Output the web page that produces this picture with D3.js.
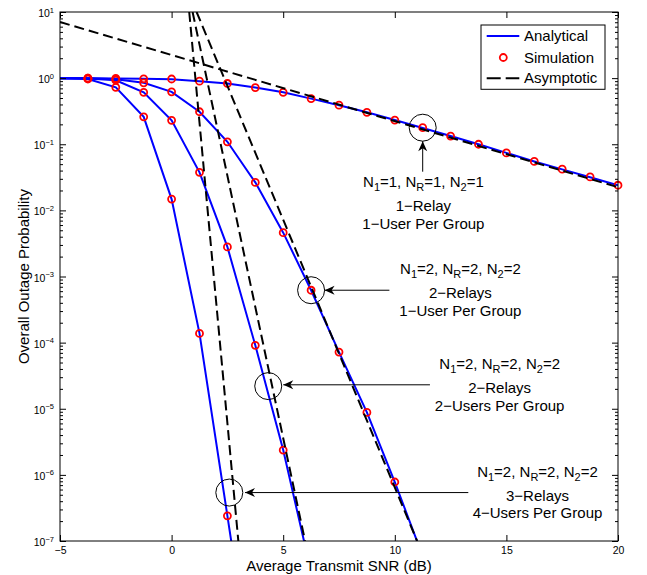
<!DOCTYPE html>
<html>
<head>
<meta charset="utf-8">
<script src="https://cdn.jsdelivr.net/npm/d3@7"></script>
<style>
  body { margin: 0; background: #fff; }
  text { font-family: "Liberation Sans", Arial, Helvetica, sans-serif; }
</style>
</head>
<body>
<div class="view"></div>
<script>
// SNR points (dB); the simulation has no point at -5 dB
const snrAna = [-5, -3.75, -2.5, -1.25, 0, 1.25, 2.5, 3.75, 5, 6.25, 7.5, 8.75, 10, 11.25, 12.5, 13.75, 15, 16.25, 17.5, 18.75, 20];
const snrSim = [-3.75, -2.5, -1.25, 0, 1.25, 2.5, 3.75, 5, 6.25, 7.5, 8.75, 10, 11.25, 12.5, 13.75, 15, 16.25, 17.5, 18.75, 20];

// N1=1, NR=1, N2=1 : 1 relay, 1 user per group
const anaA = [1.0, 0.995, 0.99, 0.98, 0.965, 0.90, 0.83, 0.72, 0.61, 0.49, 0.388, 0.304, 0.232, 0.176, 0.133, 0.100, 0.074, 0.055, 0.0417, 0.0316, 0.024];
const simA = [0.995, 0.99, 0.975, 0.97, 0.90, 0.83, 0.72, 0.61, 0.49, 0.39, 0.304, 0.232, 0.178, 0.133, 0.100, 0.074, 0.055, 0.042, 0.032, 0.024];

// N1=2, NR=2, N2=2 : 2 relays, 1 user per group
const anaB = [1.0, 0.995, 0.96, 0.85, 0.62, 0.31, 0.109, 0.0265, 4.6e-3, 6.2e-4, 7.2e-5, 8.8e-6, 7.8e-7, 5.9e-8];
const simB = [0.995, 0.96, 0.85, 0.62, 0.31, 0.109, 0.0265, 4.6e-3, 6.2e-4, 7.2e-5, 8.8e-6, 7.8e-7];

// N1=2, NR=2, N2=2 : 2 relays, 2 users per group
const anaC = [1.0, 0.99, 0.93, 0.61, 0.23, 0.0376, 2.8e-3, 9.1e-5, 2.37e-6, 3.4e-8];
const simC = [0.99, 0.93, 0.61, 0.23, 0.0376, 2.8e-3, 9.1e-5, 2.37e-6];

// N1=2, NR=2, N2=2 : 3 relays, 4 users per group
const anaD = [1.0, 0.97, 0.725, 0.26, 0.0148, 1.38e-4, 2.4e-7, 4e-10];
const simD = [0.97, 0.725, 0.26, 0.0148, 1.38e-4, 2.4e-7];

// asymptotes, straight on the log scale (two end points each)
const asymSnrA = [-5, 20];    const asymA = [7.06, 0.0224];
const asymSnrB = [1.12, 11.0]; const asymB = [10, 1e-7];
const asymSnrC = [0.94, 5.98]; const asymC = [10, 1e-7];
const asymSnrD = [0.79, 2.99]; const asymD = [10, 1e-7];

// ticks
const xTicks = [-5, 0, 5, 10, 15, 20];
const yExponents = [-7, -6, -5, -4, -3, -2, -1, 0, 1];

const legendLabels = ["Analytical", "Simulation", "Asymptotic"];

// circled points and their notes
const noteSnr = [11.25, 6.25, 4.33, 2.585];
const noteProb = [0.178, 6.2e-4, 2.2e-5, 5.4e-7];
const noteLines = [
    ["N_1=1, N_R=1, N_2=1", "1\u2212Relay", "1\u2212User Per Group"],
    ["N_1=2, N_R=2, N_2=2", "2\u2212Relays", "1\u2212User Per Group"],
    ["N_1=2, N_R=2, N_2=2", "2\u2212Relays", "2\u2212Users Per Group"],
    ["N_1=2, N_R=2, N_2=2", "3\u2212Relays", "4\u2212Users Per Group"]
];

/** Outage probability chart */
class OutageChart {

    constructor(){
        this.margin = {top: 12, right: 29, bottom: 34, left: 60};
        this.width = 647 - this.margin.left - this.margin.right;
        this.height = 575 - this.margin.top - this.margin.bottom;

        // where the arrows and text sit, offsets in px from the circle centre
        this.noteLayout = [
            {tail: [0, 44], tip: [0, 13.5], text: [0.7, 59.6]},
            {tail: [78.3, 0], tip: [13.5, 0], text: [149.3, -16]},
            {tail: [161.7, -1.3], tip: [15, -1.3], text: [231.4, -17]},
            {tail: [239, 0], tip: [15.7, 0], text: [308.2, -15.6]}
        ];
        this.lineGaps = [0, 24, 41.5];
    }

    draw(){
        let svg = d3.select(".view").append("svg")
            .attr("width", this.width + this.margin.left + this.margin.right)
            .attr("height", this.height + this.margin.top + this.margin.bottom);

        let g = svg.append("g")
            .attr("transform", "translate(" + this.margin.left + "," + this.margin.top + ")");

        let x = d3.scaleLinear().domain([-5, 20]).range([0, this.width]);
        let y = d3.scaleLog().domain([1e-7, 10]).range([this.height, 0]);

        g.append("clipPath").attr("id", "plotClip")
            .append("rect").attr("width", this.width).attr("height", this.height);

        let line = d3.line().x(d => x(d[0])).y(d => y(d[1]));

        // analytical curves
        let anaLayer = g.append("g").attr("clip-path", "url(#plotClip)");
        [anaA, anaB, anaC, anaD].forEach(vals => {
            anaLayer.append("path")
                .datum(d3.zip(snrAna.slice(0, vals.length), vals))
                .attr("d", line)
                .attr("fill", "none")
                .attr("stroke", "#0000ff")
                .attr("stroke-width", 2);
        });

        // simulation markers
        let simLayer = g.append("g");
        [simA, simB, simC, simD].forEach(vals => {
            simLayer.selectAll(null)
                .data(d3.zip(snrSim.slice(0, vals.length), vals))
                .enter().append("circle")
                .attr("cx", d => x(d[0]))
                .attr("cy", d => y(d[1]))
                .attr("r", 3.5)
                .attr("fill", "none")
                .attr("stroke", "#ff0000")
                .attr("stroke-width", 1.8);
        });

        // asymptotes
        let asymLayer = g.append("g").attr("clip-path", "url(#plotClip)");
        [[asymSnrA, asymA], [asymSnrB, asymB], [asymSnrC, asymC], [asymSnrD, asymD]].forEach(a => {
            asymLayer.append("path")
                .datum(d3.zip(a[0], a[1]))
                .attr("d", line)
                .attr("fill", "none")
                .attr("stroke", "#000")
                .attr("stroke-width", 2)
                .attr("stroke-dasharray", "10,5");
        });

        // axes, ticks pointing inwards
        let minors = [];
        yExponents.slice(0, -1).forEach(e => {
            for (let m = 2; m <= 9; m++) minors.push(m * Math.pow(10, e));
        });
        let decades = yExponents.map(e => Math.pow(10, e));
        let noDomain = s => s.select(".domain").remove();

        g.append("g")
            .attr("transform", "translate(0," + this.height + ")")
            .call(d3.axisBottom(x).tickValues(xTicks).tickSize(-6).tickPadding(5.5).tickFormat(d3.format("d")))
            .call(noDomain)
            .attr("font-size", 10.5)
            .attr("color", "#000");
        g.append("g")
            .call(d3.axisTop(x).tickValues(xTicks).tickSize(-6).tickFormat(""))
            .call(noDomain);

        let yAxis = g.append("g")
            .call(d3.axisLeft(y).tickValues(decades).tickSize(-6).tickPadding(6).tickFormat(""))
            .call(noDomain)
            .attr("font-size", 10.5)
            .attr("color", "#000");
        yAxis.selectAll(".tick text")
            .attr("dy", "0.43em")
            .each(function(d){
                let t = d3.select(this);
                t.append("tspan").text("10");
                t.append("tspan")
                    .attr("dy", -4.5)
                    .attr("font-size", 7.5)
                    .text(d3.format("d")(Math.round(Math.log10(d))));
            });
        g.append("g")
            .call(d3.axisLeft(y).tickValues(minors).tickSize(-3).tickFormat(""))
            .call(noDomain);
        g.append("g")
            .attr("transform", "translate(" + this.width + ",0)")
            .call(d3.axisRight(y).tickValues(decades).tickSize(-6).tickFormat(""))
            .call(noDomain);
        g.append("g")
            .attr("transform", "translate(" + this.width + ",0)")
            .call(d3.axisRight(y).tickValues(minors).tickSize(-3).tickFormat(""))
            .call(noDomain);

        g.append("rect")
            .attr("width", this.width)
            .attr("height", this.height)
            .attr("fill", "none")
            .attr("stroke", "#000")
            .attr("stroke-width", 1);

        // axis titles
        g.append("text")
            .attr("x", this.width / 2)
            .attr("y", this.height + 29.5)
            .attr("text-anchor", "middle")
            .attr("font-size", 15)
            .text("Average Transmit SNR (dB)");
        g.append("text")
            .attr("transform", "translate(-31," + (this.height / 2) + ") rotate(-90)")
            .attr("text-anchor", "middle")
            .attr("font-size", 15)
            .text("Overall Outage Probability");

        // legend
        let leg = g.append("g").attr("transform", "translate(421,13)");
        leg.append("rect")
            .attr("width", 124).attr("height", 64.3)
            .attr("fill", "#fff").attr("stroke", "#000");
        let rowY = [11, 32.5, 53.3];
        leg.append("line")
            .attr("x1", 5.7).attr("x2", 38.3).attr("y1", rowY[0]).attr("y2", rowY[0])
            .attr("stroke", "#0000ff").attr("stroke-width", 2);
        leg.append("circle")
            .attr("cx", 22.3).attr("cy", rowY[1]).attr("r", 3.5)
            .attr("fill", "none").attr("stroke", "#ff0000").attr("stroke-width", 1.8);
        leg.append("line")
            .attr("x1", 5.7).attr("x2", 38.3).attr("y1", rowY[2]).attr("y2", rowY[2])
            .attr("stroke", "#000").attr("stroke-width", 2).attr("stroke-dasharray", "14,5");
        leg.selectAll(".legText")
            .data(legendLabels)
            .enter().append("text")
            .attr("x", 43)
            .attr("y", (d, i) => rowY[i] + 5)
            .attr("font-size", 15)
            .text(d => d);

        // notes: circle, arrow and three lines of text
        let notes = g.append("g");
        noteSnr.forEach((s, i) => {
            let cx = x(s), cy = y(noteProb[i]);
            let lay = this.noteLayout[i];
            notes.append("circle")
                .attr("cx", cx).attr("cy", cy).attr("r", 13.5)
                .attr("fill", "none").attr("stroke", "#000").attr("stroke-width", 1);

            let tail = [cx + lay.tail[0], cy + lay.tail[1]];
            let tip = [cx + lay.tip[0], cy + lay.tip[1]];
            notes.append("line")
                .attr("x1", tail[0]).attr("y1", tail[1])
                .attr("x2", tip[0]).attr("y2", tip[1])
                .attr("stroke", "#000").attr("stroke-width", 1);
            let ang = Math.atan2(tip[1] - tail[1], tip[0] - tail[0]) * 180 / Math.PI;
            notes.append("path")
                .attr("d", "M0,0L-10,-4.5L-7,0L-10,4.5Z")
                .attr("transform", "translate(" + tip[0] + "," + tip[1] + ") rotate(" + ang + ")")
                .attr("fill", "#000");

            noteLines[i].forEach((str, j) => {
                let t = notes.append("text")
                    .attr("x", cx + lay.text[0])
                    .attr("y", cy + lay.text[1] + this.lineGaps[j])
                    .attr("text-anchor", "middle")
                    .attr("font-size", 15);
                richText(t, str);
            });
        });
    }
}

// "N_1" style subscripts written as tspans
function richText(sel, str){
    let down = false;
    str.split(/_(\w)/).forEach((part, i) => {
        if (part === "") return;
        let t = sel.append("tspan").text(part);
        if (i % 2 === 1) {
            t.attr("font-size", 11);
            if (!down) { t.attr("dy", 4); down = true; }
        } else if (down) {
            t.attr("dy", -4);
            down = false;
        }
    });
}

let chart = new OutageChart();
chart.draw();
</script>
</body>
</html>
